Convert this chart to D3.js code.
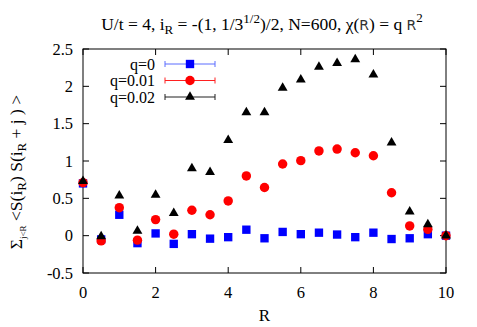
<!doctype html>
<html>
<head>
<meta charset="utf-8">
<script src="https://d3js.org/d3.v7.min.js"></script>
<style>
  body { margin: 0; background: #fff; }
  text { font-family: "Liberation Serif", "DejaVu Serif", serif; fill: #000; }
</style>
</head>
<body>
<svg id="chart" width="477" height="327"></svg>
<script>
// values
var rValues = [0, 0.5, 1, 1.5, 2, 2.5, 3, 3.5, 4, 4.5, 5, 5.5, 6, 6.5, 7, 7.5, 8, 8.5, 9, 9.5, 10];
var q0 = [0.70, -0.05, 0.28, -0.10, 0.03, -0.11, 0.02, -0.04, -0.02, 0.08, -0.035,
          0.05, 0.02, 0.04, 0.015, -0.02, 0.04, -0.045, -0.035, 0.02, 0.0];
var q001 = [0.71, -0.07, 0.375, -0.06, 0.215, 0.02, 0.34, 0.28, 0.465, 0.80, 0.645,
            0.96, 1.005, 1.135, 1.16, 1.11, 1.07, 0.575, 0.13, 0.085, 0.0];
var q002 = [0.73, -0.01, 0.535, 0.065, 0.545, 0.30, 0.90, 0.85, 1.28, 1.65, 1.65,
            1.98, 2.09, 2.26, 2.31, 2.36, 2.155, 1.245, 0.32, 0.15, 0.0];
var xTicks = [0, 2, 4, 6, 8, 10];
var yTicks = [-0.5, 0, 0.5, 1, 1.5, 2, 2.5];
var seriesNames = ["q=0", "q=0.01", "q=0.02"];

var svg = d3.select("#chart");
var mLeft = 83, mRight = 446, mTop = 49, mBottom = 273;

var x = d3.scaleLinear().domain([0, 10]).range([mLeft, mRight]);
var y = d3.scaleLinear().domain([-0.5, 2.5]).range([mBottom, mTop]);

// ticks (inward, all four sides)
var tk = 6;
var ax = svg.append("g").attr("stroke", "#000").attr("stroke-width", 1);
xTicks.forEach(function(t) {
  ax.append("line").attr("x1", x(t)).attr("x2", x(t)).attr("y1", mBottom).attr("y2", mBottom - tk);
  ax.append("line").attr("x1", x(t)).attr("x2", x(t)).attr("y1", mTop).attr("y2", mTop + tk);
});
yTicks.forEach(function(t) {
  ax.append("line").attr("x1", mLeft).attr("x2", mLeft + tk).attr("y1", y(t)).attr("y2", y(t));
  ax.append("line").attr("x1", mRight).attr("x2", mRight - tk).attr("y1", y(t)).attr("y2", y(t));
});

svg.append("rect")
   .attr("x", mLeft).attr("y", mTop)
   .attr("width", mRight - mLeft).attr("height", mBottom - mTop)
   .attr("fill", "none").attr("stroke", "#000").attr("stroke-width", 1);

// tick labels
svg.selectAll(".xl").data(xTicks).enter().append("text")
   .attr("x", function(d) { return x(d); })
   .attr("y", mBottom + 25)
   .attr("text-anchor", "middle")
   .attr("font-size", "16.5px")
   .text(function(d) { return d; });

svg.selectAll(".yl").data(yTicks).enter().append("text")
   .attr("x", mLeft - 10)
   .attr("y", function(d) { return y(d) + 5.5; })
   .attr("text-anchor", "end")
   .attr("font-size", "16.5px")
   .text(function(d) { return d; });

// axis title
svg.append("text")
   .attr("x", x(5)).attr("y", 321)
   .attr("text-anchor", "middle")
   .attr("font-size", "17px")
   .text("R");

// chart title
var title = svg.append("text")
   .attr("x", 262).attr("y", 30)
   .attr("text-anchor", "middle")
   .attr("font-size", "17.5px");
title.append("tspan").text("U/t = 4, i");
title.append("tspan").attr("font-size", "13px").attr("dy", 4).text("R");
title.append("tspan").attr("dy", -4).text(" = -(1, 1/3");
title.append("tspan").attr("font-size", "13px").attr("dy", -7).text("1/2");
title.append("tspan").attr("dy", 7).text(")/2, N=600, \u03c7(");
title.append("tspan").attr("font-family", "DejaVu Sans").attr("font-size", "14px").attr("fill", "#333").text("R");
title.append("tspan").text(") = q ");
title.append("tspan").attr("font-family", "DejaVu Sans").attr("font-size", "14px").attr("fill", "#333").text("R");
title.append("tspan").attr("font-size", "13px").attr("dy", -8).text("2");

// y axis title
var yt = svg.append("text")
   .attr("transform", "translate(22,172) rotate(-90)")
   .attr("text-anchor", "middle")
   .attr("font-size", "17.5px");
yt.append("tspan").text("\u03a3");
yt.append("tspan").attr("font-size", "9px").attr("dy", 4).text("j<R");
yt.append("tspan").attr("dy", -4).text("  <S(i");
yt.append("tspan").attr("font-size", "13px").attr("dy", 4).text("R");
yt.append("tspan").attr("dy", -4).text(") S(i");
yt.append("tspan").attr("font-size", "13px").attr("dy", 4).text("R");
yt.append("tspan").attr("dy", -4).text(" + j ) >");

// series
var series = [
  { name: seriesNames[0], values: q0, color: "#0000ff", line: "#5a6cff", sym: d3.symbolSquare, size: 70 },
  { name: seriesNames[1], values: q001, color: "#ff0000", line: "#ff2020", sym: d3.symbolCircle, size: 70 },
  { name: seriesNames[2], values: q002, color: "#000000", line: "#202020", sym: d3.symbolTriangle, size: 42 }
];

series.forEach(function(s) {
  svg.append("g").selectAll("path")
     .data(s.values).enter().append("path")
     .attr("transform", function(d, i) { return "translate(" + x(rValues[i]) + "," + y(d) + ")"; })
     .attr("d", d3.symbol().type(s.sym).size(s.size))
     .attr("fill", s.color);
});

// legend
var lg = svg.append("g");
series.forEach(function(s, i) {
  var ly = 64 + i * 16.5;
  lg.append("text")
    .attr("x", 155).attr("y", ly + 5.5)
    .attr("text-anchor", "end")
    .attr("font-size", "16px")
    .text(s.name);
  lg.append("line").attr("x1", 165).attr("x2", 215).attr("y1", ly).attr("y2", ly)
    .attr("stroke", s.line).attr("stroke-width", 1);
  [165, 215].forEach(function(cx) {
    lg.append("line").attr("x1", cx).attr("x2", cx).attr("y1", ly - 3).attr("y2", ly + 3)
      .attr("stroke", s.line).attr("stroke-width", 1);
  });
  lg.append("path")
    .attr("transform", "translate(190," + ly + ")")
    .attr("d", d3.symbol().type(s.sym).size(s.size))
    .attr("fill", s.color);
});
</script>
</body>
</html>
